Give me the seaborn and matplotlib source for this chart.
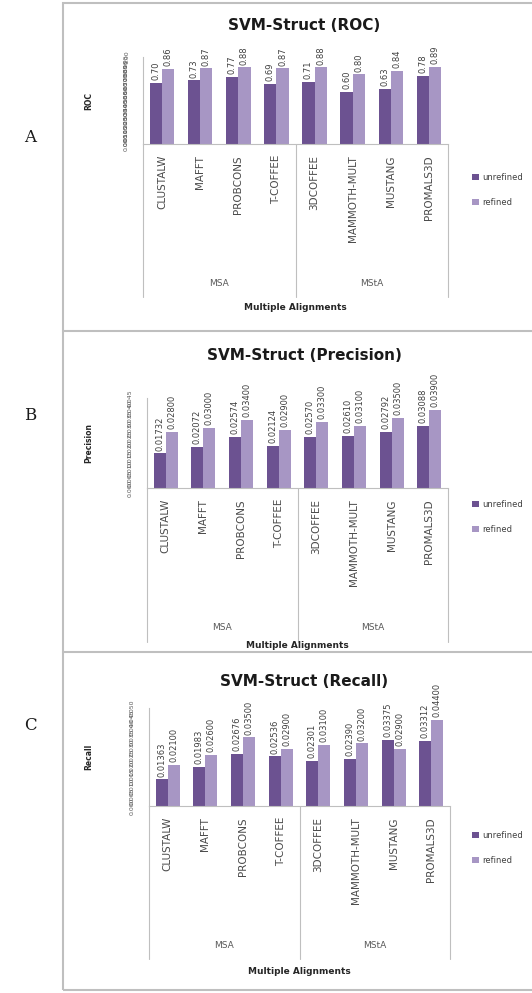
import seaborn as sns
import pandas as pd
import matplotlib.pyplot as plt
import matplotlib.transforms as mtransforms
from matplotlib.lines import Line2D
import numpy as np

# Data
methods = ["CLUSTALW", "MAFFT", "PROBCONS", "T-COFFEE",
           "3DCOFFEE", "MAMMOTH-MULT", "MUSTANG", "PROMALS3D"]
groups = ["MSA", "MStA"]
group_sizes = [4, 4]
series = ["unrefined", "refined"]

roc_unrefined = [0.70, 0.73, 0.77, 0.69, 0.71, 0.60, 0.63, 0.78]
roc_refined = [0.86, 0.87, 0.88, 0.87, 0.88, 0.80, 0.84, 0.89]

prec_unrefined = [0.01732, 0.02072, 0.02574, 0.02124, 0.02570, 0.02610, 0.02792, 0.03088]
prec_refined = [0.02800, 0.03000, 0.03400, 0.02900, 0.03300, 0.03100, 0.03500, 0.03900]

rec_unrefined = [0.01363, 0.01983, 0.02676, 0.02536, 0.02301, 0.02390, 0.03375, 0.03312]
rec_refined = [0.02100, 0.02600, 0.03500, 0.02900, 0.03100, 0.03200, 0.02900, 0.04400]

W, H = 532, 993
DARK = "#6c5291"
LIGHT = "#a796c4"
GRID = "#bfbfbf"

# panel geometry in pixels
panels = [
    dict(letter="A", title="SVM-Struct (ROC)", ylabel="ROC",
         unref=roc_unrefined, ref=roc_refined, ymax=1.0, step=0.05, vfmt="%.2f", tfmt="%.2f",
         box=(143, 448, 57, 144), title_y=25, letter_y=138, group_y=283, sep_y=297, xlabel_y=307, legend_y=169),
    dict(letter="B", title="SVM-Struct (Precision)", ylabel="Precision",
         unref=prec_unrefined, ref=prec_refined, ymax=0.045, step=0.005, vfmt="%.5f", tfmt="%.3f",
         box=(147, 448, 398, 488), title_y=355, letter_y=416, group_y=627, sep_y=642, xlabel_y=646, legend_y=496),
    dict(letter="C", title="SVM-Struct (Recall)", ylabel="Recall",
         unref=rec_unrefined, ref=rec_refined, ymax=0.050, step=0.005, vfmt="%.5f", tfmt="%.3f",
         box=(149, 450, 708, 806), title_y=682, letter_y=725, group_y=945, sep_y=959, xlabel_y=971, legend_y=827),
]

sns.set_style("white")
plt.rcParams["font.family"] = ["DejaVu Sans"]

fig = plt.figure(figsize=(W / 100, H / 100), dpi=100)

def fx(px):
    return px / W

def fy(py):
    return 1 - py / H

# outer frame and panel separators
frame = plt.Rectangle((fx(63), fy(990)), fx(532) - fx(63) + 0.01, fy(3) - fy(990),
                      transform=fig.transFigure, fill=False, edgecolor=GRID, lw=1.5)
fig.add_artist(frame)
for yy in [331, 652]:
    fig.add_artist(Line2D([fx(63), 1], [fy(yy), fy(yy)], transform=fig.transFigure, color=GRID, lw=1.5))

for p in panels:
    x0, x1, y0, y1 = p["box"]
    ax = fig.add_axes([fx(x0), fy(y1), fx(x1) - fx(x0), fy(y0) - fy(y1)])

    df = pd.DataFrame({
        "method": methods * 2,
        "value": p["unref"] + p["ref"],
        "type": [series[0]] * len(methods) + [series[1]] * len(methods),
    })
    sns.barplot(data=df, x="method", y="value", hue="type", order=methods, hue_order=series,
                palette=[DARK, LIGHT], width=0.64, gap=0, saturation=1, linewidth=0,
                ax=ax, legend=True)

    for c in ax.containers:
        ax.bar_label(c, fmt=p["vfmt"], rotation=90, fontsize=6, color="#404040", padding=2)

    ax.set_xlim(-0.5, len(methods) - 0.5)
    ax.set_ylim(0, p["ymax"])
    ticks = np.round(np.arange(0, p["ymax"] + p["step"] / 2, p["step"]), 4)
    ax.set_yticks(ticks)
    ax.set_yticklabels([p["tfmt"] % t for t in ticks], rotation=90, fontsize=4.5,
                       color="#595959", va="center")
    ax.tick_params(axis="y", length=2, color=GRID, pad=8)
    ax.tick_params(axis="x", length=0, pad=8, labelsize=7.5, labelcolor="#4a4a4a")
    for lab in ax.get_xticklabels():
        lab.set_rotation(90)
    ax.set_xlabel("")
    ax.set_ylabel(p["ylabel"], fontsize=5.5, fontweight="bold", color="#262626")
    ax.yaxis.set_label_coords((93 - x0) / (x1 - x0), 0.5)
    for s in ["top", "right"]:
        ax.spines[s].set_visible(False)
    for s in ["left", "bottom"]:
        ax.spines[s].set_color(GRID)
        ax.spines[s].set_linewidth(0.8)

    # multi-level category axis
    trans = mtransforms.blended_transform_factory(ax.transData, fig.transFigure)
    start = -0.5
    bounds = [start]
    for g, n in zip(groups, group_sizes):
        ax.text(start + n / 2, fy(p["group_y"]), g, transform=trans, ha="center", va="center",
                fontsize=6.5, color="#595959")
        start += n
        bounds.append(start)
    for b in bounds:
        ax.add_line(Line2D([b, b], [fy(y1), fy(p["sep_y"])], transform=trans, color=GRID,
                           lw=0.8, clip_on=False))
    fig.text(fx((x0 + x1) / 2), fy(p["xlabel_y"]), "Multiple Alignments", ha="center", va="center",
             fontsize=6.5, fontweight="bold", color="#262626")

    fig.text(fx(304), fy(p["title_y"]), p["title"], ha="center", va="center",
             fontsize=11, fontweight="bold", color="#1a1a1a")
    fig.text(fx(30), fy(p["letter_y"]), p["letter"], ha="center", va="center",
             fontsize=12, family="DejaVu Serif", color="#1a1a1a")

    ax.legend(loc="upper left", bbox_to_anchor=(fx(468), fy(p["legend_y"])), bbox_transform=fig.transFigure,
              frameon=False, fontsize=6, handlelength=0.8, handleheight=0.8, handletextpad=0.4,
              labelspacing=1.9, borderpad=0, labelcolor="#404040")

fig.savefig("out.png", dpi=100)
